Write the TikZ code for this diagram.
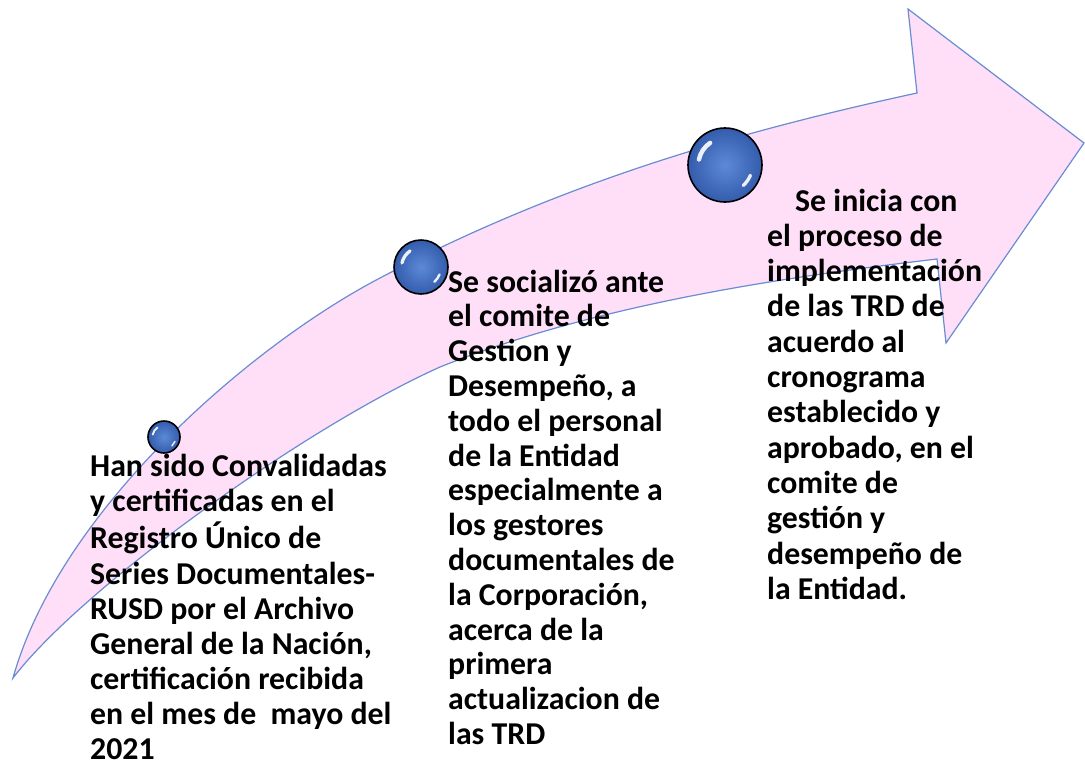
\documentclass[tikz,border=0pt]{standalone}
\usepackage{fontspec}
\setmainfont{Carlito}
\definecolor{arrowfill}{RGB}{255,223,247}
\definecolor{arrowline}{RGB}{105,140,210}
\definecolor{ballin}{RGB}{92,138,215}
\definecolor{ballout}{RGB}{52,92,172}
\tikzset{
  ball/.style={circle, draw=black, line width=1.6pt, inner sep=0pt, minimum size=#1,
    inner color=ballin, outer color=ballout},
  txt/.style={anchor=base west, inner sep=0pt},
  glint/.style={white, opacity=0.9, line cap=round}
}
\newcommand\myglint[2]{%
  \draw[glint, line width=0.12*#2pt] (#1.center) ++(192:0.72*#2) arc[start angle=192, end angle=236, radius=0.72*#2];
  \draw[glint, line width=0.09*#2pt] (#1.center) ++(22:0.74*#2) arc[start angle=22, end angle=48, radius=0.74*#2];
}
\begin{document}
\begin{tikzpicture}[x=1pt,y=-1pt]
\useasboundingbox (0,0) rectangle (1085,761);
\fill[white] (0,0) rectangle (1085,761);
% arrow
\draw[arrowline, fill=arrowfill, line width=1.2pt, line join=miter]
  (13,678) .. controls (60,510) and (250,346) .. (380,278)
  .. controls (560,183) and (737,132) .. (917,93)
  -- (908,9) -- (1084,143) -- (946,343) -- (937,259)
  .. controls (767,279) and (590,307) .. (440,367)
  .. controls (300,430) and (80,590) .. cycle;
% balls
\node[ball=32pt] (b1) at (164,437) {};
\node[ball=54pt] (b2) at (421,267) {};
\node[ball=74pt] (b3) at (725,165) {};
\myglint{b1}{16}
\myglint{b2}{27}
\myglint{b3}{37}
% texts
\node[txt, font=\fontsize{31.8}{35.15}\selectfont\bfseries] (t1) at (90,476.5) {\begin{tabular}[t]{@{}l@{}}
Han sido Convalidadas\\
y certificadas en el\\
Registro Único de\\
Series Documentales-\\
RUSD por el Archivo\\
General de la Nación,\\
certificación recibida\\
en el mes de~ mayo del\\
2021\end{tabular}};
\node[txt, font=\fontsize{31.8}{34.8}\selectfont\bfseries] (t2) at (448,292) {\begin{tabular}[t]{@{}l@{}}
Se socializó ante\\
el comite de\\
Gestion y\\
Desempeño, a\\
todo el personal\\
de la Entidad\\
especialmente a\\
los gestores\\
documentales de\\
la Corporación,\\
acerca de la\\
primera\\
actualizacion de\\
las TRD\end{tabular}};
\node[txt, font=\fontsize{31.8}{35.3}\selectfont\bfseries] (t3) at (767,211) {\begin{tabular}[t]{@{}l@{}}
\hspace*{28pt}Se inicia con\\
el proceso de\\
implementación\\
de las TRD de\\
acuerdo al\\
cronograma\\
establecido y\\
aprobado, en el\\
comite de\\
gestión y\\
desempeño de\\
la Entidad.\end{tabular}};
\end{tikzpicture}
\end{document}
